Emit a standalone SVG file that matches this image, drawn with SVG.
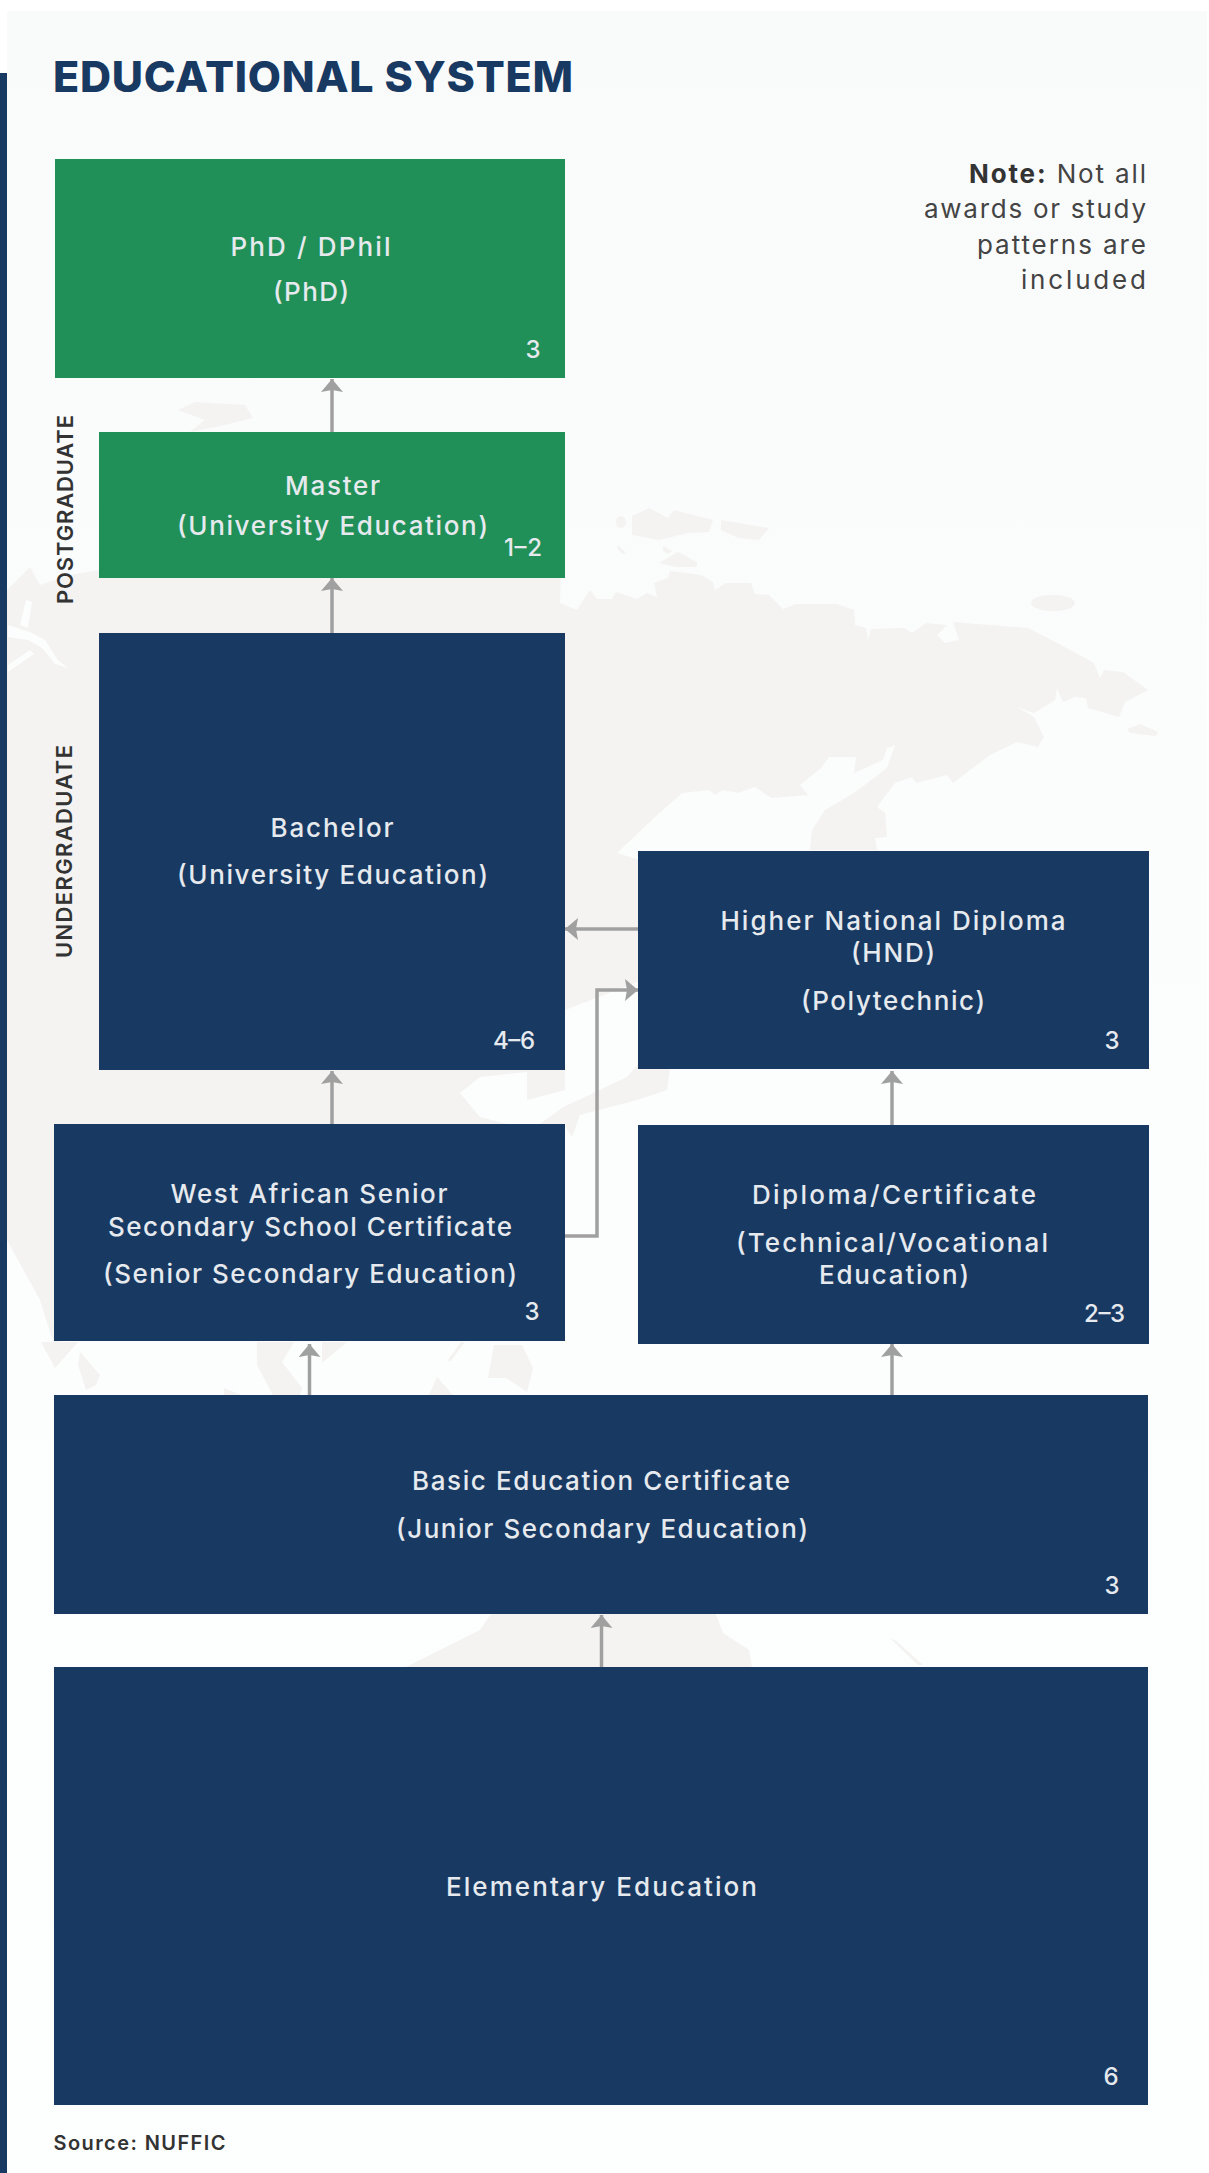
<svg xmlns="http://www.w3.org/2000/svg" width="1209" height="2173" viewBox="0 0 1209 2173">
<style>
.b{fill:#183962}.g{fill:#219058}
.t{font-family:Inter,"Liberation Sans",sans-serif;font-size:26px;font-weight:500;fill:#e6eaee;text-anchor:middle}
.n{font-size:24px}
.m{fill:#f4f3f2}
.w{fill:#fcfdfd}
.c{fill:none;stroke:#a0a0a0;stroke-width:3.500}
.s{font-family:Inter,"Liberation Sans",sans-serif;font-weight:600;fill:#333}
</style>
<defs>
<marker id="a" markerUnits="userSpaceOnUse" markerWidth="16" markerHeight="24" refX="14" refY="11" orient="auto"><path d="M14 11L1 0L3 11L1 22Z" fill="#a0a0a0"/></marker>
<linearGradient id="p" x1="0" y1="0" x2="0" y2="1"><stop offset="0" stop-color="#f9fbfb"/><stop offset="0.5" stop-color="#fcfdfd"/><stop offset="1" stop-color="#fdfefe"/></linearGradient>
</defs>
<rect width="1209" height="2173" fill="#fff"/>
<rect x="7" y="11" width="1200" height="2162" fill="url(#p)"/>
<rect x="0" y="73" width="7" height="2100" fill="#183962"/>
<g id="map">
<path class="m" d="M7 590L30 567L40 585L70 575L99 570L99 432L565 432L560 603L577 610L590 590L597 599L612 599L616 592L637 599L647 593L657 597L654 583L668 578L670 571L701 575L713 582L715 590L726 583L751 583L755 594L769 595L783 609L796 604L837 604L854 610L855 625L866 628L868 640L871 629L904 628L912 633L926 623L947 625L937 635L945 643L959 640L953 622L1028 628L1061 645L1094 663L1100 678L1104 670L1123 672L1148 690L1125 702L1119 717L1102 712L1088 708L1086 698L1075 697L1063 702L1057 688L1055 700L1034 713L1017 707L1034 717L1044 737L1038 747L1017 742L990 755L953 783L947 775L916 783L912 777L895 783L877 807L885 813L887 837L875 838L877 850L810 850L812 830L825 810L854 793L887 768L895 745L887 748L883 760L854 773L856 757L829 757L821 768L800 785L808 795L771 798L755 787L738 793L723 790L715 795L709 790L682 793L655 817L617 853L640 860L640 981L583 1003L565 1010L550 1060L527 1072L480 1077L460 1093L480 1117L507 1124L300 1200L54 1345L40 1300L7 1240Z"/>
<path class="m" d="M527 1070H565V1090L527 1100Z"/>
<path class="m" d="M540 1124L563 1107L567 1124Z"/>
<path class="m" d="M566 1128L563 1107L583 1098L627 1077L640 1062L670 1068L667 1090L637 1100L610 1107L580 1115L572 1137Z"/>
<path class="m" d="M178 410L195 402L245 405L253 418L225 425L190 432L205 420Z"/>
<path class="m" d="M632 516L649 508L668 518L674 510L713 520L709 532L688 533L659 540L632 535Z"/>
<path class="m" d="M721 520L769 528L759 540L738 538L721 530Z"/>
<ellipse class="m" cx="621" cy="522" rx="5" ry="6"/>
<path class="m" d="M618 545L626 553L622 554L617 548Z"/>
<path class="m" d="M663 546L672 551L668 554L663 551Z"/>
<path class="m" d="M659 563L678 552L697 562L697 567L676 567Z"/>
<ellipse class="m" cx="1053" cy="603" rx="22" ry="8"/>
<path class="m" d="M1127 729L1140 724L1158 732L1156 736L1130 733Z"/>
<path class="m" d="M41 1342L78 1342L55 1368Z"/>
<path class="m" d="M80 1352L100 1375L96 1385L86 1390L78 1365Z"/>
<path class="m" d="M257 1342L294 1342L282 1362L302 1388L300 1395L273 1395L257 1365Z"/>
<path class="m" d="M322 1342L347 1342L322 1363Z"/>
<path class="m" d="M224 1388L241 1395L224 1395Z"/>
<path class="m" d="M461 1342L465 1342L450 1362L448 1360Z"/>
<path class="m" d="M437 1377L453 1395L429 1395Z"/>
<path class="m" d="M494 1345L522 1345L533 1368L527 1392L506 1378L488 1378Z"/>
<path class="m" d="M406 1667L440 1650L480 1630L491 1614L716 1614L723 1633L749 1650L752 1667Z"/>
<path class="m" d="M890 1638L895 1640L923 1665L918 1665Z"/>
<path class="w" d="M8 625L30 632L45 640L58 660L68 668L55 664L42 648L28 640L8 637ZM20 625L26 600L32 602L28 628ZM8 665L30 650L34 654L8 672Z"/>
</g>
<g id="connectors">
<path class="c" marker-end="url(#a)" d="M332 432V379"/>
<path class="c" marker-end="url(#a)" d="M332 633V578"/>
<path class="c" marker-end="url(#a)" d="M332 1124V1071"/>
<path class="c" marker-end="url(#a)" d="M638 929H565"/>
<path class="c" marker-end="url(#a)" d="M565 1236H597V990H638"/>
<path class="c" marker-end="url(#a)" d="M892 1125V1071"/>
<path class="c" marker-end="url(#a)" d="M309.500 1395V1344"/>
<path class="c" marker-end="url(#a)" d="M892 1395V1344"/>
<path class="c" marker-end="url(#a)" d="M601.500 1667V1615"/>
</g>
<text class="s" x="53" y="92" font-size="43" style="font-weight:800;fill:#183962" textLength="520">EDUCATIONAL SYSTEM</text>
<g id="note" class="s" font-size="26" text-anchor="end" style="font-weight:400;fill:#444">
<text x="1146" y="183" textLength="177"><tspan style="font-weight:700;fill:#333">Note:</tspan> Not all</text>
<text x="1146" y="218" textLength="222">awards or study</text>
<text x="1146" y="254" textLength="169">patterns are</text>
<text x="1146" y="289" textLength="125">included</text>
</g>
<text class="s" transform="translate(73 509.500) rotate(-90)" font-size="22" text-anchor="middle" textLength="189">POSTGRADUATE</text>
<text class="s" transform="translate(72 851.500) rotate(-90)" font-size="22" text-anchor="middle" textLength="213">UNDERGRADUATE</text>
<g id="phd"><rect class="g" x="55" y="159" width="510" height="219"/>
<text class="t" x="310.500" y="256" textLength="160">PhD / DPhil</text><text class="t" x="311" y="301" textLength="76">(PhD)</text><text class="t n" x="533" y="358" textLength="14">3</text></g>
<g id="master"><rect class="g" x="99" y="432" width="466" height="146"/>
<text class="t" x="332.500" y="495" textLength="95">Master</text><text class="t" x="332.500" y="535" textLength="311">(University Education)</text><text class="t n" x="523" y="556" textLength="38">1–2</text></g>
<g id="bachelor"><rect class="b" x="99" y="633" width="466" height="437"/>
<text class="t" x="332" y="837" textLength="123">Bachelor</text><text class="t" x="332.500" y="884" textLength="311">(University Education)</text><text class="t n" x="514" y="1049" textLength="42">4–6</text></g>
<g id="hnd"><rect class="b" x="638" y="851" width="511" height="218"/>
<text class="t" x="893" y="930" textLength="345">Higher National Diploma</text><text class="t" x="893" y="962" textLength="84">(HND)</text><text class="t" x="893" y="1010" textLength="184">(Polytechnic)</text><text class="t n" x="1112" y="1049" textLength="14">3</text></g>
<g id="wassc"><rect class="b" x="54" y="1124" width="511" height="217"/>
<text class="t" x="309" y="1203" textLength="277">West African Senior</text><text class="t" x="310" y="1236" textLength="404">Secondary School Certificate</text><text class="t" x="310" y="1283" textLength="414">(Senior Secondary Education)</text><text class="t n" x="532" y="1320" textLength="14">3</text></g>
<g id="diploma"><rect class="b" x="638" y="1125" width="511" height="219"/>
<text class="t" x="894" y="1204" textLength="284">Diploma/Certificate</text><text class="t" x="892" y="1252" textLength="312">(Technical/Vocational</text><text class="t" x="894" y="1284" textLength="150">Education)</text><text class="t n" x="1104.500" y="1322" textLength="41">2–3</text></g>
<g id="basic"><rect class="b" x="54" y="1395" width="1094" height="219"/>
<text class="t" x="601" y="1490" textLength="378">Basic Education Certificate</text><text class="t" x="602" y="1538" textLength="412">(Junior Secondary Education)</text><text class="t n" x="1112" y="1594" textLength="14">3</text></g>
<g id="elementary"><rect class="b" x="54" y="1667" width="1094" height="438"/>
<text class="t" x="601.500" y="1896" textLength="311">Elementary Education</text><text class="t n" x="1111" y="2085" textLength="14">6</text></g>
<text class="s" x="53.500" y="2150" font-size="20" textLength="172">Source: NUFFIC</text>
</svg>
